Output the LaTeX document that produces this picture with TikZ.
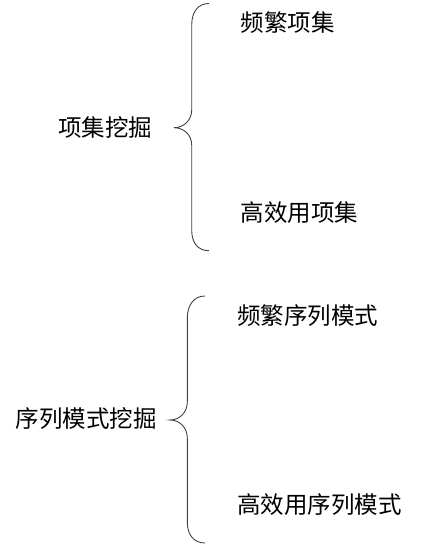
\documentclass[tikz,border=0pt]{standalone}
\usepackage{fontspec}
\setmainfont{Noto Sans CJK SC}
\tikzset{
  mine/.style={x=1bp,y=-1bp,font=\fontsize{23.5bp}{28bp}\selectfont},
  term/.style={anchor=base west,inner sep=0pt},
  brace/.style={draw=black!75,line width=0.9pt}
}

\begin{document}
\begin{tikzpicture}[mine]
    \useasboundingbox (0,0) rectangle (420,544);
    % left words
    \node[term] (mine1) at (58,136.5) {项集挖掘};
    \node[term] (mine2) at (15.5,427) {序列模式挖掘};
    % right words
    \node[term] (freqI) at (240.5,31.5) {频繁项集};
    \node[term] (hutI)  at (240.5,221.5) {高效用项集};
    \node[term] (freqS) at (237,324) {频繁序列模式};
    \node[term] (hutS)  at (237,513) {高效用序列模式};
    % braces
    \draw[brace] (209,3.5) .. controls (198,3.5) and (191.7,12) .. (191.7,25) -- (191.7,110)
        .. controls (191.7,120) and (184,127.7) .. (174,127.7)
        .. controls (184,127.7) and (191.7,135) .. (191.7,145) -- (191.7,230)
        .. controls (191.7,243) and (198,250.7) .. (209,250.7);
    \draw[brace] (205,296) .. controls (194,296) and (187.3,305) .. (187.3,318) -- (187.3,402)
        .. controls (187.3,412) and (180,420) .. (170,420)
        .. controls (180,420) and (187.3,428) .. (187.3,438) -- (187.3,522)
        .. controls (187.3,535) and (194,543) .. (205,543);
\end{tikzpicture}
\end{document}
